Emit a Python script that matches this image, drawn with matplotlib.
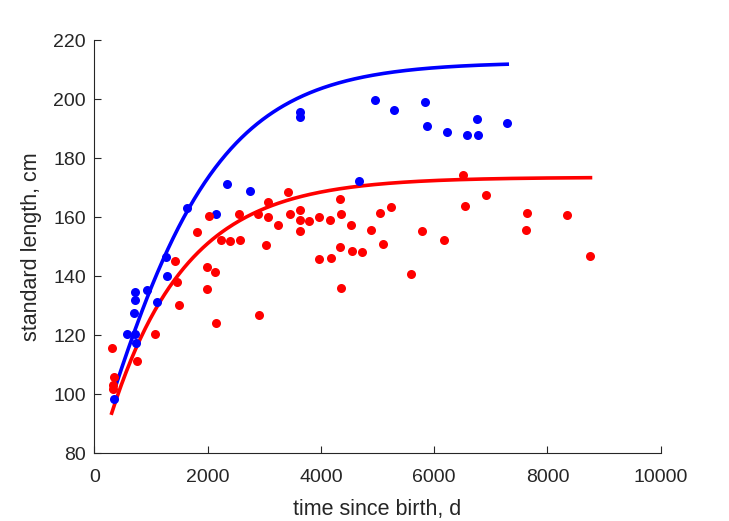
import numpy as np
import matplotlib
matplotlib.use('Agg')
import matplotlib.pyplot as plt

# male (blue) observations: age in days, standard length in cm
blue_t = [348, 572, 719, 731, 701, 725, 725, 936, 1112, 1266, 1289, 1642,
          2143, 2338, 2754, 3632, 3632, 4674, 4956, 5291, 5845, 5873, 6221,
          6580, 6769, 6757, 7286]
blue_len = [98.3, 120.4, 120.3, 117.3, 127.5, 132.0, 134.5, 135.3, 131.1,
            146.5, 140.1, 163.0, 161.1, 171.3, 169.0, 195.6, 193.9, 172.2,
            199.7, 196.3, 198.9, 190.8, 189.0, 187.7, 187.7, 193.3, 191.8]

# female (red) observations
red_t = [312, 348, 336, 336, 753, 1071, 1490, 1466, 1424, 1984, 2131, 1984,
         2143, 1819, 2031, 2232, 2396, 2572, 2555, 2896, 3067, 3067, 3243,
         3026, 2903, 3425, 3457, 3637, 3637, 3796, 3973, 4167, 4344, 4356,
         4538, 3637, 3967, 4173, 4344, 4550, 4726, 4356, 4886, 5044, 5233,
         5097, 5591, 5786, 6180, 6510, 6921, 6551, 7645, 7627, 8351, 8757]
red_len = [115.5, 106.0, 103.0, 101.7, 111.3, 120.4, 130.4, 138.0, 145.3,
           143.2, 141.3, 135.5, 124.3, 154.9, 160.4, 152.1, 151.8, 152.3,
           160.9, 160.9, 165.1, 160.0, 157.4, 150.4, 126.9, 168.6, 161.2,
           162.5, 159.1, 158.8, 159.9, 159.1, 166.3, 161.2, 157.2, 155.3,
           145.8, 146.1, 149.9, 148.6, 148.3, 136.0, 155.8, 161.3, 163.5,
           150.9, 140.9, 155.3, 152.3, 174.4, 167.6, 163.9, 161.3, 155.5,
           160.6, 147.0]

# fitted growth curves (parameters)
blue_fit = dict(linf=212.5, b=0.975, k=7.8e-4, t0=348, t1=7290)    # Gompertz
red_fit = dict(linf=173.5, a=79.9, k=7.5e-4, t0=307, t1=8760)      # von Bertalanffy

tb = np.linspace(blue_fit['t0'], blue_fit['t1'], 300)
lb = blue_fit['linf'] * np.exp(-blue_fit['b'] * np.exp(-blue_fit['k'] * tb))
tr = np.linspace(red_fit['t0'], red_fit['t1'], 300)
lr = red_fit['linf'] - red_fit['a'] * np.exp(-red_fit['k'] * (tr - red_fit['t0']))

plt.rcParams['font.family'] = ['Liberation Sans', 'DejaVu Sans']
grey = '#262626'

fig = plt.figure(figsize=(7.29, 5.21), dpi=100)
ax = fig.add_axes([94.3 / 729, 1 - 453.3 / 521, (660.7 - 94.3) / 729, (453.3 - 40) / 521])

ax.plot(blue_t, blue_len, 'o', color='#0000ff', markersize=6.5, markeredgewidth=0, zorder=3)
ax.plot(red_t, red_len, 'o', color='#ff0000', markersize=6.5, markeredgewidth=0, zorder=3)
ax.plot(tb, lb, color='#0000ff', linewidth=2.6, zorder=2)
ax.plot(tr, lr, color='#ff0000', linewidth=2.6, zorder=2)

ax.set_xlim(0, 10000)
ax.set_ylim(80, 220)
ax.set_xticks(np.arange(0, 10001, 2000))
ax.set_yticks(np.arange(80, 221, 20))

for s in ['top', 'right']:
    ax.spines[s].set_visible(False)
for s in ['left', 'bottom']:
    ax.spines[s].set_color(grey)
    ax.spines[s].set_linewidth(0.8)
ax.tick_params(direction='in', length=5, width=0.8, colors=grey, labelsize=14)
ax.tick_params(axis='x', pad=11)
ax.tick_params(axis='y', pad=6)

ax.set_xlabel('time since birth, d', fontsize=15.5, color=grey, labelpad=10)
ax.set_ylabel('standard length, cm', fontsize=15.5, color=grey, labelpad=8)

plt.savefig('out.png', dpi=100)
